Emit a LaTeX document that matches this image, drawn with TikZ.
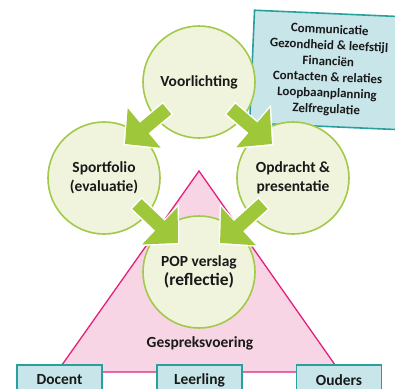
\documentclass[tikz,border=0pt]{standalone}
\usepackage{fontspec}
\setmainfont{Carlito}
\usetikzlibrary{arrows.meta}

\definecolor{bubblefill}{RGB}{240,244,220}
\definecolor{bubbleline}{RGB}{163,201,74}
\definecolor{arrowgreen}{RGB}{158,199,58}
\definecolor{talkfill}{RGB}{248,213,228}
\definecolor{talkline}{RGB}{228,32,126}
\definecolor{boxfill}{RGB}{200,230,233}
\definecolor{boxline}{RGB}{42,160,158}
\definecolor{ink}{RGB}{25,25,25}

\tikzset{
  bubble/.style={circle,draw=bubbleline,fill=bubblefill,line width=1.6bp,
    minimum size=112bp,inner sep=0pt,align=center,text=ink,
    font=\fontsize{15.5}{19}\selectfont\bfseries},
  topicbox/.style={draw=boxline,fill=boxfill,line width=1.6bp,
    minimum width=152bp,minimum height=113bp,align=center,text=ink,
    font=\fontsize{13}{16}\selectfont\bfseries},
  personbox/.style={draw=boxline,fill=boxfill,line width=1.6bp,
    minimum width=85bp,minimum height=30bp,inner sep=0pt,text=ink,
    font=\fontsize{15.5}{19}\selectfont\bfseries},
  bigarrow/.style={arrowgreen,line width=13.5bp,
    -{Triangle[width=50bp,length=25bp]},
    preaction={draw=white,line width=16.5bp,
      -{Triangle[width=57bp,length=28.5bp]},
      shorten >=-2.1bp,shorten <=-1.5bp}},
}

\begin{document}
\begin{tikzpicture}[x=1bp,y=-1bp]
\useasboundingbox (0,0) rectangle (395,389);

% triangle

\coordinate (apex) at (199,171);
\coordinate (base left) at (57,372);
\coordinate (base right) at (340,372);
\draw[fill=talkfill,draw=talkline,line width=1.3bp,line join=miter]
  (apex) -- (base left) -- (base right) -- cycle;

\node[text=ink,font=\fontsize{15.5}{19}\selectfont\bfseries] (gesprek) at (200,343) {Gespreksvoering};

% topics

\node[topicbox,rotate=-2.5] (topics) at (328,70)
  {Communicatie\\Gezondheid \& leefstijl\\Financiën\\Contacten \& relaties\\Loopbaanplanning\\Zelfregulatie};

% circles

\node[bubble] (voorlichting) at (199,82) {Voorlichting};
\node[bubble] (sportfolio) at (104,178) {Sportfolio\\(evaluatie)};
\node[bubble] (opdracht) at (293,178) {Opdracht \&\\presentatie};
\node[bubble] (pop) at (199,272) {POP verslag\\{\fontsize{17.5}{19}\selectfont(reflectie)}};

% arrows

\coordinate (a1) at (167,109);
\coordinate (b1) at (125,144);
\coordinate (a2) at (231,109);
\coordinate (b2) at (272,144);
\coordinate (a3) at (137,204);
\coordinate (b3) at (178,243);
\coordinate (a4) at (263,204);
\coordinate (b4) at (220,243);

\foreach \i in {1,...,4}
{
  \draw[bigarrow] (a\i) -- (b\i);
}

% people

\foreach \name/\x/\label in {docent/59.5/Docent,leerling/199.5/Leerling,ouders/339/Ouders}
{
  \node[personbox] (\name) at (\x,380) {\label};
}

\end{tikzpicture}
\end{document}
